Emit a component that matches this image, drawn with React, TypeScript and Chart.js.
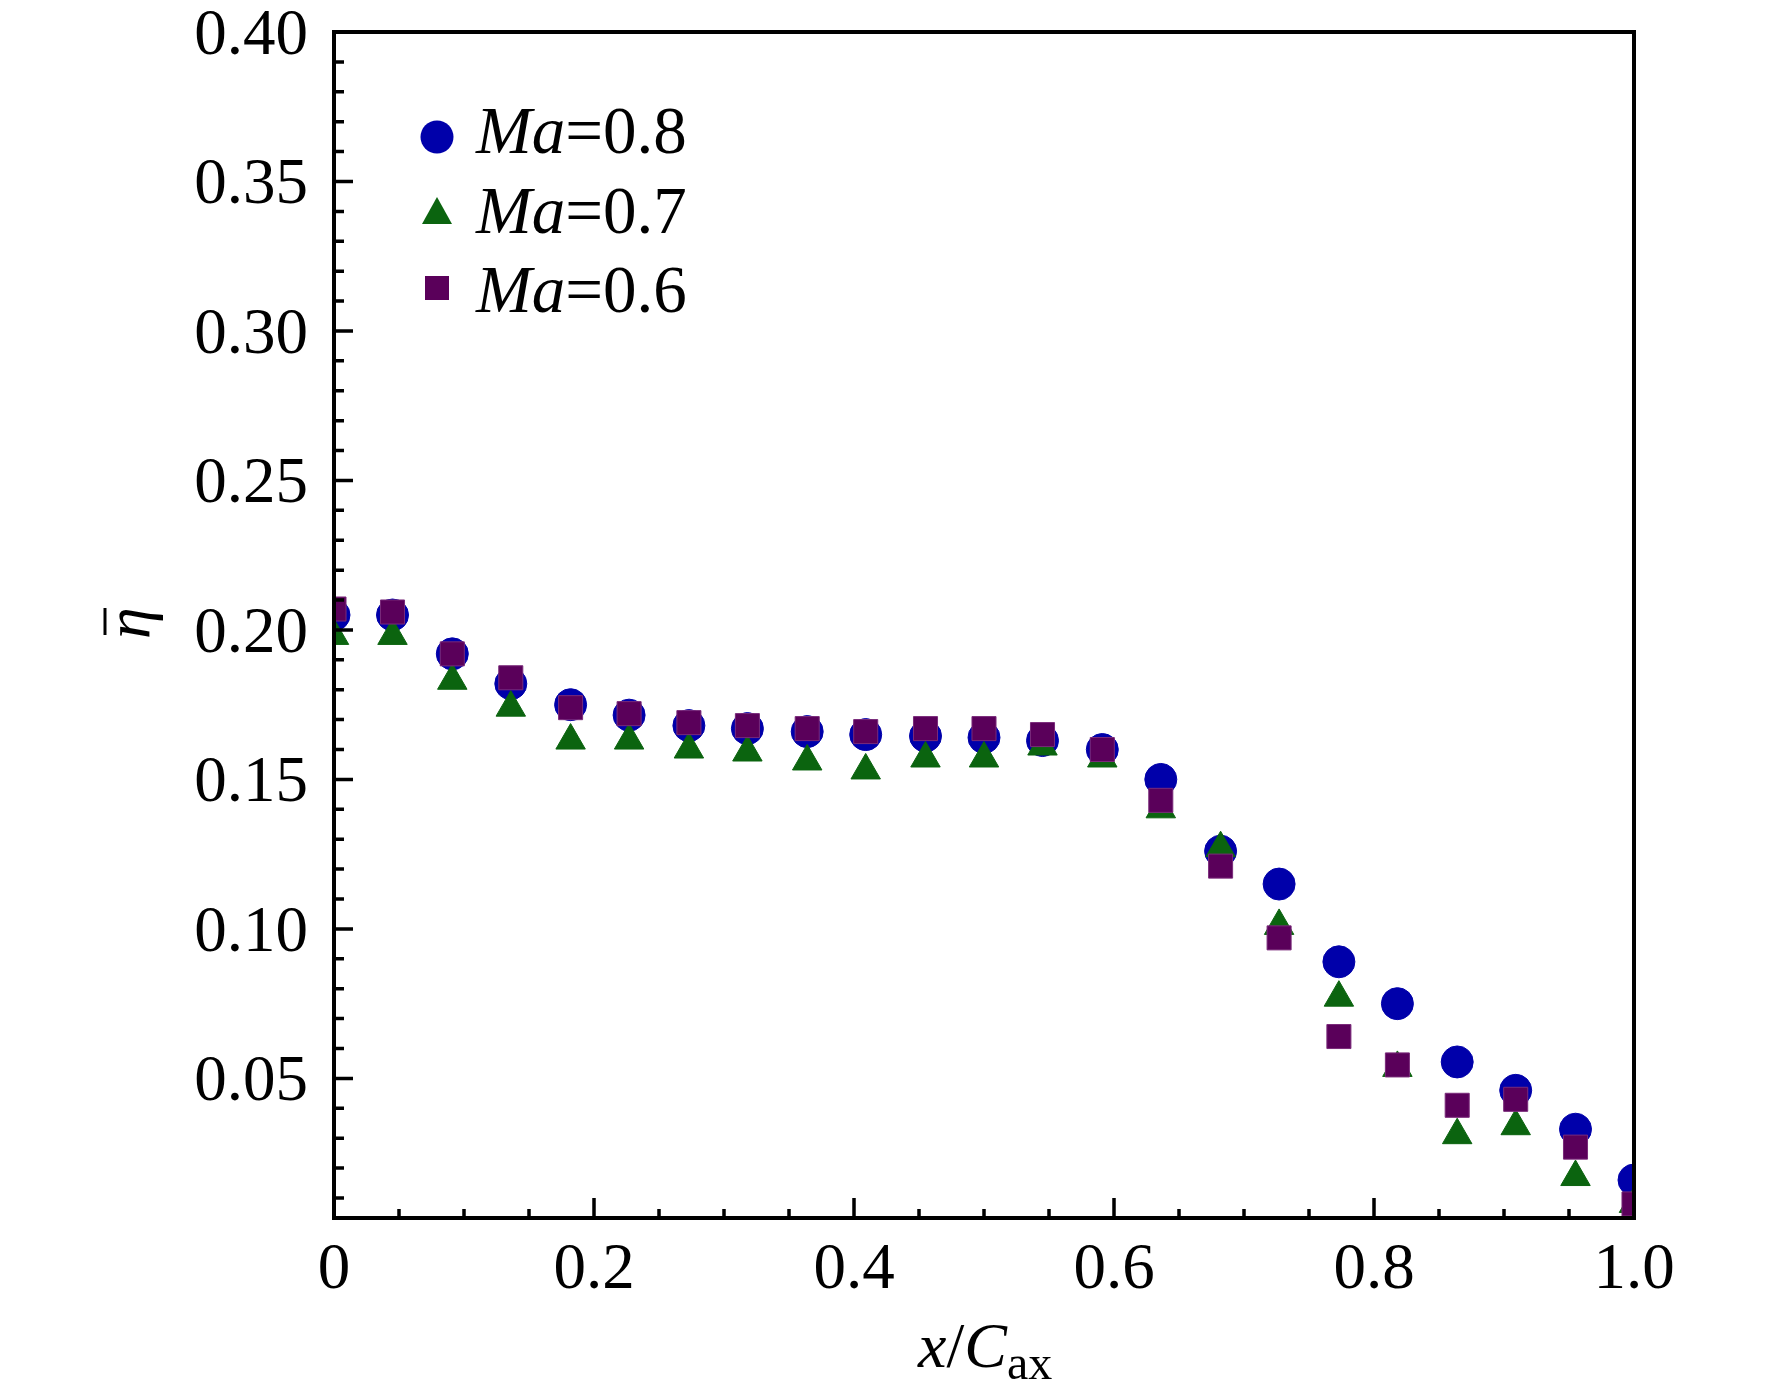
import { useEffect, useRef } from 'react';
import { Chart, registerables } from 'chart.js';

Chart.register(...registerables);

// x/Cax positions of the measurement holes
const xPos = [0, 0.045, 0.091, 0.136, 0.182, 0.227, 0.273, 0.318, 0.364, 0.409, 0.455, 0.5,
  0.545, 0.591, 0.636, 0.682, 0.727, 0.773, 0.818, 0.864, 0.909, 0.955, 1.0];

const ma08 = [0.205, 0.205, 0.192, 0.182, 0.175, 0.1715, 0.168, 0.167, 0.166, 0.165, 0.1645, 0.164,
  0.163, 0.160, 0.150, 0.126, 0.115, 0.089, 0.075, 0.0555, 0.046, 0.033, 0.016];
const ma07 = [0.198, 0.198, 0.183, 0.174, 0.163, 0.163, 0.160, 0.159, 0.156, 0.153, 0.157, 0.157,
  0.161, 0.157, 0.140, 0.127, 0.101, 0.077, 0.0535, 0.031, 0.034, 0.017, 0.008];
const ma06 = [0.207, 0.206, 0.192, 0.184, 0.174, 0.172, 0.169, 0.168, 0.167, 0.166, 0.167, 0.167,
  0.165, 0.160, 0.143, 0.121, 0.097, 0.064, 0.0545, 0.041, 0.043, 0.027, 0.008];

const seriesNames = ['=0.8', '=0.7', '=0.6'];
const yMajor = [0.05, 0.10, 0.15, 0.20, 0.25, 0.30, 0.35, 0.40];
const yMinor = [0.01, 0.02, 0.03, 0.04, 0.06, 0.07, 0.08, 0.09, 0.11, 0.12, 0.13, 0.14, 0.16, 0.17,
  0.18, 0.19, 0.21, 0.22, 0.23, 0.24, 0.26, 0.27, 0.28, 0.29, 0.31, 0.32, 0.33, 0.34, 0.36, 0.37, 0.38, 0.39];
const xMajor = [0, 0.2, 0.4, 0.6, 0.8, 1.0];
const xMinor = [0.05, 0.1, 0.15, 0.25, 0.3, 0.35, 0.45, 0.5, 0.55, 0.65, 0.7, 0.75, 0.85, 0.9, 0.95];
const xLabels = ['0', '0.2', '0.4', '0.6', '0.8', '1.0'];
const yLabels = ['0.05', '0.10', '0.15', '0.20', '0.25', '0.30', '0.35', '0.40'];

const BLUE = '#0000aa';
const GREEN = '#0b640f';
const PURPLE = '#5a005a';
const SERIF = '"Liberation Serif", "Times New Roman", serif';

const toPts = (ys: number[]) => ys.map((y, i) => ({ x: xPos[i], y }));

const framePlugin = {
  id: 'frame',
  afterDraw: (chart: any) => {
    const { ctx, chartArea } = chart;
    const { left, right, top, bottom } = chartArea;
    const xs = chart.scales.x;
    const ys = chart.scales.y;
    ctx.save();
    ctx.strokeStyle = '#000';
    ctx.lineWidth = 4;
    ctx.strokeRect(left, top, right - left, bottom - top);

    ctx.lineWidth = 3.5;
    ctx.beginPath();
    yMajor.forEach((v) => {
      const p = ys.getPixelForValue(v);
      ctx.moveTo(left, p);
      ctx.lineTo(left + 19, p);
    });
    yMinor.forEach((v) => {
      const p = ys.getPixelForValue(v);
      ctx.moveTo(left, p);
      ctx.lineTo(left + 10, p);
    });
    xMajor.forEach((v) => {
      const p = xs.getPixelForValue(v);
      ctx.moveTo(p, bottom);
      ctx.lineTo(p, bottom - 20);
    });
    xMinor.forEach((v) => {
      const p = xs.getPixelForValue(v);
      ctx.moveTo(p, bottom);
      ctx.lineTo(p, bottom - 9);
    });
    ctx.stroke();

    ctx.fillStyle = '#000';
    ctx.font = `65px ${SERIF}`;
    ctx.textBaseline = 'alphabetic';
    ctx.textAlign = 'right';
    yMajor.forEach((v, i) => {
      ctx.fillText(yLabels[i], left - 26, ys.getPixelForValue(v) + 22);
    });
    ctx.textAlign = 'center';
    xMajor.forEach((v, i) => {
      ctx.fillText(xLabels[i], xs.getPixelForValue(v), bottom + 70);
    });

    // x axis title: x/Cax
    ctx.textAlign = 'left';
    let cx = 918;
    const base = 1367;
    const parts: [string, string, number][] = [
      ['x', `italic 64px ${SERIF}`, 0],
      ['/', `64px ${SERIF}`, 0],
      ['C', `italic 64px ${SERIF}`, 0],
      ['ax', `48px ${SERIF}`, 12],
    ];
    parts.forEach(([t, f, dy]) => {
      ctx.font = f;
      ctx.fillText(t, cx, base + dy);
      cx += ctx.measureText(t).width;
    });

    // y axis title: eta with overbar
    ctx.save();
    ctx.translate(140, (top + bottom) / 2);
    ctx.rotate(-Math.PI / 2);
    ctx.font = `italic 64px ${SERIF}`;
    ctx.textAlign = 'center';
    ctx.fillText('η', 2, 9);
    ctx.lineWidth = 3;
    ctx.beginPath();
    ctx.moveTo(-10, -35);
    ctx.lineTo(17, -35);
    ctx.stroke();
    ctx.restore();

    // legend
    const colors = [BLUE, GREEN, PURPLE];
    const rows = [137, 212, 288];
    const bases = [153, 233, 312];
    rows.forEach((ry, i) => {
      ctx.fillStyle = colors[i];
      ctx.beginPath();
      if (i === 0) {
        ctx.arc(437, ry, 16.5, 0, Math.PI * 2);
      } else if (i === 1) {
        ctx.moveTo(437, ry - 15);
        ctx.lineTo(452, ry + 12);
        ctx.lineTo(422, ry + 12);
        ctx.closePath();
      } else {
        ctx.rect(425, ry - 12, 24, 24);
      }
      ctx.fill();
      ctx.fillStyle = '#000';
      ctx.font = `italic 67px ${SERIF}`;
      ctx.fillText('Ma', 476, bases[i]);
      const w = ctx.measureText('Ma').width;
      ctx.font = `67px ${SERIF}`;
      ctx.fillText(seriesNames[i], 476 + w, bases[i]);
    });
    ctx.restore();
  },
};

export default function App() {
  const canvasRef = useRef<HTMLCanvasElement | null>(null);

  useEffect(() => {
    if (!canvasRef.current) return;
    const chart = new Chart(canvasRef.current, {
      type: 'scatter',
      data: {
        datasets: [
          {
            label: 'Ma=0.8', data: toPts(ma08), pointStyle: 'circle', pointRadius: 16,
            backgroundColor: BLUE, borderColor: BLUE, borderWidth: 1, order: 3,
          },
          {
            label: 'Ma=0.7', data: toPts(ma07), pointStyle: 'triangle', pointRadius: 17,
            backgroundColor: GREEN, borderColor: GREEN, borderWidth: 1, order: 2,
          },
          {
            label: 'Ma=0.6', data: toPts(ma06), pointStyle: 'rect', pointRadius: 17,
            backgroundColor: PURPLE, borderColor: '#7a2a7a', borderWidth: 1, order: 1,
          },
        ],
      },
      options: {
        animation: false,
        responsive: false,
        devicePixelRatio: 1,
        layout: { padding: { left: 334, right: 138, top: 32, bottom: 182 } },
        scales: {
          x: { type: 'linear', min: 0, max: 1, display: false },
          y: { type: 'linear', min: 0.0033, max: 0.4, display: false },
        },
        plugins: { legend: { display: false }, tooltip: { enabled: false } },
        events: [],
      } as any,
      plugins: [framePlugin],
    });
    return () => chart.destroy();
  }, []);

  return (
    <div style={{ position: 'absolute', left: 0, top: 0, width: 1772, height: 1400, background: '#fff' }}>
      <canvas ref={canvasRef} width={1772} height={1400} />
    </div>
  );
}
